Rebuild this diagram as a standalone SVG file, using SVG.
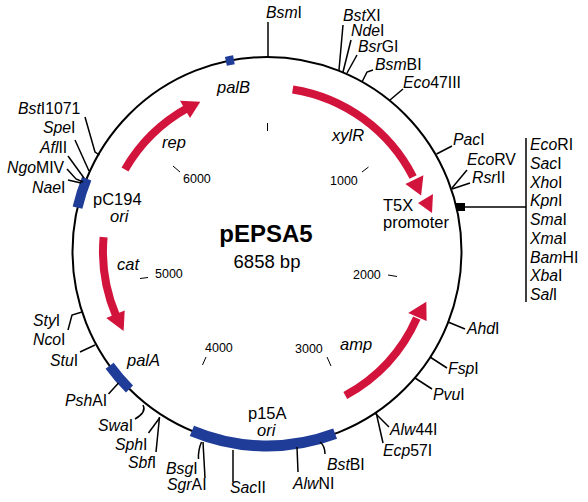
<svg xmlns="http://www.w3.org/2000/svg" width="588" height="502" viewBox="0 0 588 502">
<style>
text{font-family:"Liberation Sans",Arial,Helvetica,sans-serif;fill:#000}
.s{font-size:15.8px}
.f{font-size:16.5px}
.t{font-size:12.5px}
.i{font-style:italic}
.c{font-size:24px;font-weight:bold}
.ln{stroke:#000;stroke-width:1.5;fill:none}
.tk{stroke:#000;stroke-width:1;fill:none}
.blue{stroke:#1f3c99;fill:none}
.red{stroke:#d2143c;stroke-width:8;fill:none}
.rh{fill:#d2143c}
</style>
<rect width="588" height="502" fill="#fff"/>
<g id="backbone">
<circle cx="267" cy="251.5" r="194.5" fill="none" stroke="#000" stroke-width="2"/>
</g>
<g id="features">
<path class="blue" stroke-width="9" d="M225.9,61.4 A194.5,194.5 0 0 1 233.9,59.8"/>
<path class="blue" stroke-width="10" d="M77.5,207.7 A194.5,194.5 0 0 1 86.7,178.6"/>
<path class="blue" stroke-width="10" d="M129.5,389 A194.5,194.5 0 0 1 109.6,365.8"/>
<path class="blue" stroke-width="11" d="M335.1,433.7 A194.5,194.5 0 0 1 191.9,430.9"/>
<rect x="456" y="203" width="9" height="8" fill="#000"/>
</g>
<g id="genes">
<path class="red" d="M125,169.5 A164,164 0 0 1 187.5,108.1"/>
<polygon class="rh" points="190,118.1 180,100.8 200.3,101.7"/>
<path class="red" d="M292.7,89.5 A164,164 0 0 1 413.1,177"/>
<polygon class="rh" points="405.4,184 423.4,175.2 421.1,195.4"/>
<path class="red" d="M103.6,237.2 A164,164 0 0 0 116,315.6"/>
<polygon class="rh" points="124.7,310.4 106.2,318.1 123.6,331"/>
<path class="red" d="M345.3,395.6 A164,164 0 0 0 416.8,318.2"/>
<polygon class="rh" points="408.2,312.9 426.6,320.9 426.3,301.7"/>
<polygon class="rh" points="418,203 433,194 432,213"/>
</g>
<g id="ticks">
<path class="tk" d="M267.5,123V131 M362,172L368.5,167 M388,275L397,276.5 M327,357L331,366 M206,357L202.5,365 M140,278.5L148,277.5 M173,166L180,172"/>
<text class="t" x="183" y="183">6000</text>
<text class="t" x="330" y="185">1000</text>
<text class="t" x="353" y="279">2000</text>
<text class="t" x="295" y="353">3000</text>
<text class="t" x="205" y="352">4000</text>
<text class="t" x="155" y="278">5000</text>
</g>
<g id="connectors">
<path class="ln" d="M268,57V22"/>
<path class="ln" d="M339,70L343,25"/>
<path class="ln" d="M343,72L351,40"/>
<path class="ln" d="M347,73L357,55"/>
<path class="ln" d="M362,82L367,72L373,70"/>
<path class="ln" d="M390,100L403,89"/>
<path class="ln" d="M436.5,154L452,146"/>
<path class="ln" d="M452,188L467,170"/>
<path class="ln" d="M452,189L470,183"/>
<path class="ln" d="M465,207H526 M526,138V302"/>
<path class="ln" d="M448,322L465,329"/>
<path class="ln" d="M430,357L447,368"/>
<path class="ln" d="M415,378L432,389"/>
<path class="ln" d="M375,413L389,427"/>
<path class="ln" d="M376,412L383,443"/>
<path class="ln" d="M320,442Q325,446 325,454"/>
<path class="ln" d="M297,447L298,472"/>
<path class="ln" d="M233,450L233,482"/>
<path class="ln" d="M203,442L205,478"/>
<path class="ln" d="M201.5,442Q198,450 198.5,459"/>
<path class="ln" d="M159.5,417L156,452"/>
<path class="ln" d="M159.5,418L148.5,433"/>
<path class="ln" d="M143,405Q147,412 135,419"/>
<path class="ln" d="M118.5,383L108.5,394"/>
<path class="ln" d="M95,345L80,352"/>
<path class="ln" d="M82,312L72,315L68,330"/>
<path class="ln" d="M85,117L95,152L99.5,155"/>
<path class="ln" d="M75,140L89,171"/>
<path class="ln" d="M68,156L84,178"/>
<path class="ln" d="M67,169L76,179L83,182"/>
<path class="ln" d="M68,180L81,183"/>
</g>
<g id="title">
<text class="c" x="266" y="242" text-anchor="middle">pEPSA5</text>
<text x="267" y="268" text-anchor="middle" font-size="18.5">6858 bp</text>
</g>
<g id="labels">
<text class="f i" x="217" y="93">palB</text>
<text class="f i" x="162" y="148">rep</text>
<text class="f i" x="332" y="141">xylR</text>
<text class="f" x="93" y="204.5">pC194</text>
<text class="f i" x="110" y="221.5">ori</text>
<text class="f i" x="117" y="270">cat</text>
<text class="f i" x="127" y="366">palA</text>
<text class="f i" x="340" y="350">amp</text>
<text class="f" x="248" y="418.5">p15A</text>
<text class="f i" x="257" y="435.5">ori</text>
<text class="f" x="383" y="211">T5X</text>
<text class="f" x="383" y="228">promoter</text>
</g>
<g id="sites" class="s">
<g id="BsmI"><text class="s" x="266" y="18"><tspan class="i">Bsm</tspan>I</text></g>
<g id="BstXI"><text class="s" x="343" y="20.5"><tspan class="i">Bst</tspan>XI</text></g>
<g id="NdeI"><text class="s" x="351" y="36"><tspan class="i">Nde</tspan>I</text></g>
<g id="BsrGI"><text class="s" x="358" y="52"><tspan class="i">Bsr</tspan>GI</text></g>
<g id="BsmBI"><text class="s" x="375" y="70"><tspan class="i">Bsm</tspan>BI</text></g>
<g id="Eco47III"><text class="s" x="403" y="88"><tspan class="i">Eco</tspan>47III</text></g>
<g id="PacI"><text class="s" x="453" y="145"><tspan class="i">Pac</tspan>I</text></g>
<g id="EcoRV"><text class="s" x="467" y="165"><tspan class="i">Eco</tspan>RV</text></g>
<g id="RsrII"><text class="s" x="472" y="183"><tspan class="i">Rsr</tspan>II</text></g>
<g id="mcs">
<text class="s" x="530" y="150"><tspan class="i">Eco</tspan>RI</text>
<text class="s" x="530" y="168.75"><tspan class="i">Sac</tspan>I</text>
<text class="s" x="530" y="187.5"><tspan class="i">Xho</tspan>I</text>
<text class="s" x="530" y="206.25"><tspan class="i">Kpn</tspan>I</text>
<text class="s" x="530" y="225"><tspan class="i">Sma</tspan>I</text>
<text class="s" x="530" y="243.75"><tspan class="i">Xma</tspan>I</text>
<text class="s" x="530" y="262.5"><tspan class="i">Bam</tspan>HI</text>
<text class="s" x="530" y="281.25"><tspan class="i">Xba</tspan>I</text>
<text class="s" x="530" y="300"><tspan class="i">Sal</tspan>I</text>
</g>
<g id="AhdI"><text class="s" x="467" y="334"><tspan class="i">Ahd</tspan>I</text></g>
<g id="FspI"><text class="s" x="448" y="374"><tspan class="i">Fsp</tspan>I</text></g>
<g id="PvuI"><text class="s" x="433" y="400"><tspan class="i">Pvu</tspan>I</text></g>
<g id="Alw44I"><text class="s" x="390" y="435"><tspan class="i">Alw</tspan>44I</text></g>
<g id="Ecp57I"><text class="s" x="383" y="456"><tspan class="i">Ecp</tspan>57I</text></g>
<g id="BstBI"><text class="s" x="327" y="470"><tspan class="i">Bst</tspan>BI</text></g>
<g id="AlwNI"><text class="s" x="293" y="489"><tspan class="i">Alw</tspan>NI</text></g>
<g id="SacII"><text class="s" x="230" y="493"><tspan class="i">Sac</tspan>II</text></g>
<g id="BsgI"><text class="s" x="166" y="474"><tspan class="i">Bsg</tspan>I</text></g>
<g id="SgrAI"><text class="s" x="167" y="490"><tspan class="i">Sgr</tspan>AI</text></g>
<g id="SbfI"><text class="s" x="128" y="468"><tspan class="i">Sbf</tspan>I</text></g>
<g id="SphI"><text class="s" x="115" y="450"><tspan class="i">Sph</tspan>I</text></g>
<g id="SwaI"><text class="s" x="98" y="431"><tspan class="i">Swa</tspan>I</text></g>
<g id="PshAI"><text class="s" x="65" y="406"><tspan class="i">Psh</tspan>AI</text></g>
<g id="StuI"><text class="s" x="50" y="366"><tspan class="i">Stu</tspan>I</text></g>
<g id="NcoI"><text class="s" x="33" y="345"><tspan class="i">Nco</tspan>I</text></g>
<g id="StyI"><text class="s" x="33" y="326"><tspan class="i">Sty</tspan>I</text></g>
<g id="NaeI"><text class="s" x="32" y="193"><tspan class="i">Nae</tspan>I</text></g>
<g id="NgoMIV"><text class="s" x="7" y="173"><tspan class="i">Ngo</tspan>MIV</text></g>
<g id="AflII"><text class="s" x="40" y="153"><tspan class="i">Afl</tspan>II</text></g>
<g id="SpeI"><text class="s" x="43" y="133"><tspan class="i">Spe</tspan>I</text></g>
<g id="BstI1071"><text class="s" x="18" y="114"><tspan class="i">Bst</tspan>I1071</text></g>
</g>
</svg>
